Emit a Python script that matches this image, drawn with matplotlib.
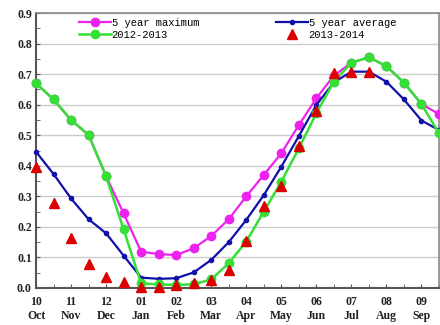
import matplotlib.pyplot as plt
from matplotlib.ticker import MultipleLocator

# half-month steps from early Oct to late Sep
months = ["10\nOct", "11\nNov", "12\nDec", "01\nJan", "02\nFeb", "03\nMar",
          "04\nApr", "05\nMay", "06\nJun", "07\nJul", "08\nAug", "09\nSep"]

max5 = [0.670, 0.617, 0.550, 0.501, 0.366, 0.244, 0.119, 0.111, 0.108, 0.130,
        0.170, 0.225, 0.300, 0.370, 0.441, 0.533, 0.621, 0.695, 0.737, 0.755,
        0.726, 0.672, 0.602, 0.569]
avg5 = [0.446, 0.373, 0.293, 0.225, 0.179, 0.106, 0.034, 0.030, 0.032, 0.051,
        0.092, 0.150, 0.223, 0.304, 0.397, 0.497, 0.599, 0.673, 0.708, 0.708,
        0.675, 0.617, 0.548, 0.517]
y1213 = [0.670, 0.617, 0.550, 0.501, 0.366, 0.192, 0.015, 0.012, 0.010, 0.012,
         0.028, 0.081, 0.152, 0.250, 0.348, 0.457, 0.572, 0.675, 0.737, 0.755,
         0.726, 0.672, 0.602, 0.506]
y1314 = [0.395, 0.277, 0.163, 0.078, 0.037, 0.021, 0.002, 0.004, 0.010, 0.015,
         0.026, 0.059, 0.155, 0.269, 0.334, 0.465, 0.580, 0.703, 0.708, 0.708]

x_all = list(range(len(max5)))
x_red = list(range(len(y1314)))

fig = plt.figure(figsize=(4.4, 3.25), dpi=100)
ax = fig.add_axes([36 / 440, 37 / 325, 403 / 440, 275 / 325])

l1, = ax.plot(x_all, max5, color="#ee22ee", lw=1.6, marker="o", ms=6, clip_on=False, zorder=3)
l2, = ax.plot(x_all, avg5, color="#1010aa", lw=1.6, marker="o", ms=3, clip_on=False, zorder=4)
l3, = ax.plot(x_all, y1213, color="#33e033", lw=1.8, marker="o", ms=6, clip_on=False, zorder=5)
l4, = ax.plot(x_red, y1314, color="#dd0000", lw=0, marker="^", ms=6.5, clip_on=False, zorder=6)

ax.set_xlim(0, 23)
ax.set_ylim(0, 0.9)
ax.set_xticks(range(0, 24, 2))
ax.set_xticklabels(months)
ax.xaxis.set_minor_locator(MultipleLocator(1))
ax.yaxis.set_major_locator(MultipleLocator(0.1))
ax.yaxis.set_minor_locator(MultipleLocator(0.05))
ax.set_yticklabels(["%.1f" % v for v in ax.get_yticks()])

for lab in ax.get_xticklabels() + ax.get_yticklabels():
    lab.set_family("Liberation Serif")
    lab.set_fontweight("bold")
    lab.set_fontsize(8.5)
    lab.set_color("#222222")

ax.tick_params(which="both", direction="in", top=False, right=False)
ax.tick_params(which="major", length=3, pad=3, color="#555555")
ax.tick_params(which="minor", length=3, color="#555555")
ax.tick_params(axis="x", pad=6)

ax.grid(axis="y", color="#cccccc", lw=1)
ax.set_axisbelow(True)
for side in ["left", "bottom"]:
    ax.spines[side].set_color("#555555")
    ax.spines[side].set_linewidth(1.5)
for side in ["top", "right"]:
    ax.spines[side].set_color("#888888")
    ax.spines[side].set_linewidth(1.2)

legfont = {"family": "Liberation Mono", "size": 7.6}
leg1 = ax.legend([l1, l3], ["5 year maximum", "2012-2013"], loc="upper left",
                 bbox_to_anchor=(79 / 440, 1 - 18 / 325), bbox_transform=fig.transFigure,
                 frameon=False, prop=legfont, handlelength=3.0, handletextpad=0.1,
                 labelspacing=0.15, borderpad=0, borderaxespad=0)
ax.add_artist(leg1)
ax.legend([l2, l4], ["5 year average", "2013-2014"], loc="upper left",
          bbox_to_anchor=(276 / 440, 1 - 18 / 325), bbox_transform=fig.transFigure,
          frameon=False, prop=legfont, handlelength=3.0, handletextpad=0.1,
          labelspacing=0.15, borderpad=0, borderaxespad=0)

fig.savefig("out.png", dpi=100)
